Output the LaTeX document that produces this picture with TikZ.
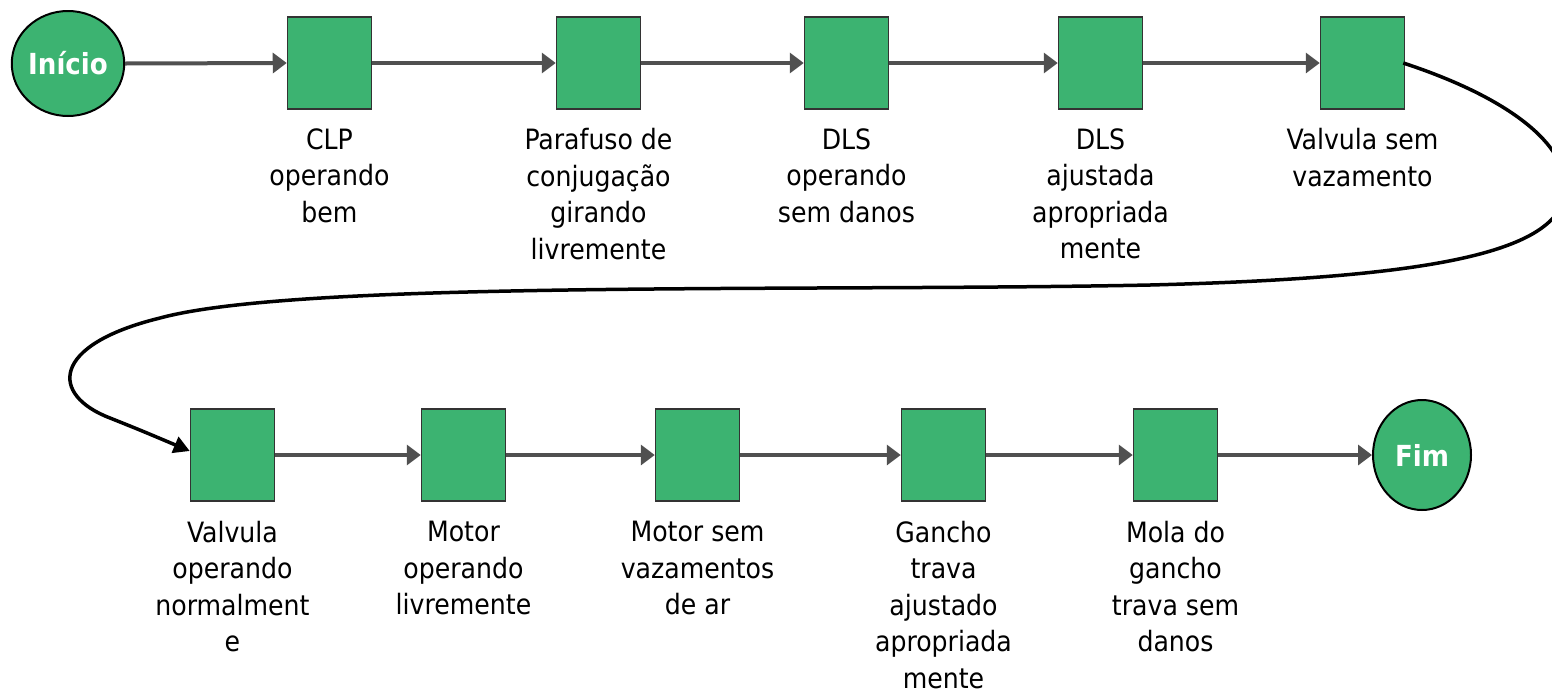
\documentclass[tikz,border=0pt]{standalone}
\usepackage{fontspec}
\setmainfont{DejaVu Sans Condensed}
\usetikzlibrary{shapes.geometric,arrows.meta}
\definecolor{boxgreen}{RGB}{60,179,113}
\definecolor{arrowgray}{RGB}{80,80,80}
\begin{document}
\begin{tikzpicture}[x=1pt,y=-1pt,
  stepbox/.style={draw=black!80, line width=1.5pt, fill=boxgreen, minimum width=84pt, minimum height=92pt, inner sep=0pt},
  terminal/.style={ellipse, draw=black, line width=2pt, fill=boxgreen, text=white, font=\fontsize{29}{34}\selectfont\bfseries, inner sep=0pt},
  lbl/.style={anchor=north, align=center, inner sep=0pt, font=\fontsize{28}{36.5}\selectfont},
  flow/.style={draw=arrowgray, line width=4pt, -{Triangle[length=14pt,width=20pt]}},
  loopline/.style={draw=black, line width=3.5pt, -{Triangle[length=16pt,width=17pt]}}]
\useasboundingbox (0,0) rectangle (1552,694);
% row 1
\node[terminal, minimum width=102pt, minimum height=105pt] (ini) at (68,63.5) {Início};
\node[stepbox] (b1) at (329.5,63) {};
\node[stepbox] (b2) at (598.5,63) {};
\node[stepbox] (b3) at (846.5,63) {};
\node[stepbox] (b4) at (1100.5,63) {};
\node[stepbox] (b5) at (1362.5,63) {};
% row 2
\node[stepbox] (b6) at (232.5,455) {};
\node[stepbox] (b7) at (463.5,455) {};
\node[stepbox] (b8) at (697.5,455) {};
\node[stepbox] (b9) at (943.5,455) {};
\node[stepbox] (b10) at (1175.5,455) {};
\node[terminal, minimum width=98pt, minimum height=110pt] (fim) at (1422,455) {Fim};
% labels
\node[lbl] (l1) at (329.5,128.5) {CLP\\operando\\bem};
\node[lbl] (l2) at (598.5,128.5) {Parafuso de\\conjugação\\girando\\livremente};
\node[lbl] (l3) at (846.5,128.5) {DLS\\operando\\sem danos};
\node[lbl] (l4) at (1100.5,128.5) {DLS\\ajustada\\apropriada\\mente};
\node[lbl] (l5) at (1362.5,128.5) {Valvula sem\\vazamento};
\node[lbl] (l6) at (232.5,521) {Valvula\\operando\\normalment\\e};
\node[lbl] (l7) at (463.5,521) {Motor\\operando\\livremente};
\node[lbl] (l8) at (697.5,521) {Motor sem\\vazamentos\\de ar};
\node[lbl] (l9) at (943.5,521) {Gancho\\trava\\ajustado\\apropriada\\mente};
\node[lbl] (l10) at (1175.5,521) {Mola do\\gancho\\trava sem\\danos};
% flow arrows
\draw[flow] (ini.east) -- (b1.west);
\draw[flow] (b1.east) -- (b2.west);
\draw[flow] (b2.east) -- (b3.west);
\draw[flow] (b3.east) -- (b4.west);
\draw[flow] (b4.east) -- (b5.west);
\draw[flow] (b6.east) -- (b7.west);
\draw[flow] (b7.east) -- (b8.west);
\draw[flow] (b8.east) -- (b9.west);
\draw[flow] (b9.east) -- (b10.west);
\draw[flow] (b10.east) -- (fim.west);
% loop connector
\draw[loopline] ([xshift=-2pt]b5.east) .. controls (1510,98) and (1568,145) .. (1565,190)
  .. controls (1562,255) and (1420,278) .. (1150,285)
  .. controls (800,292) and (300,280) .. (160,318)
  .. controls (50,345) and (50,395) .. (110,418)
  .. controls (140,430) .. ([yshift=4pt]b6.west);
\end{tikzpicture}
\end{document}
